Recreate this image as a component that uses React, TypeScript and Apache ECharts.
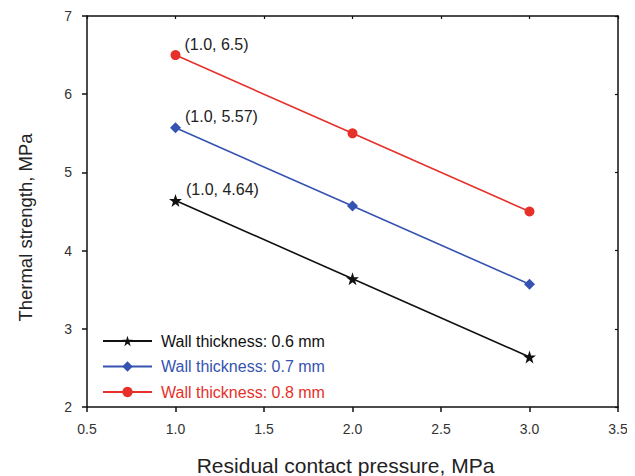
import React, { useEffect, useRef } from "react";
import * as echarts from "echarts";

const pressures = [1.0, 2.0, 3.0];
const wall06 = [4.64, 3.64, 2.64];
const wall07 = [5.57, 4.57, 3.57];
const wall08 = [6.5, 5.5, 4.5];
const seriesNames = ["Wall thickness: 0.6 mm", "Wall thickness: 0.7 mm", "Wall thickness: 0.8 mm"];
const seriesColors = ["#111111", "#3553b0", "#e6302a"];
const seriesSymbols = [
  "path://M50,0 L61.8,35.1 L98.1,35.1 L68.8,56.8 L79.4,91.9 L50,70.6 L20.6,91.9 L31.2,56.8 L1.9,35.1 L38.2,35.1 Z",
  "diamond",
  "circle",
];
const symbolSizes = [13, 11, 10];

const FONT = "'Liberation Sans', Arial, sans-serif";

export default function App() {
  const ref = useRef<HTMLDivElement>(null);
  useEffect(() => {
    if (!ref.current) return;
    const chart = echarts.init(ref.current, null, { renderer: "svg" });
    const allData = [wall06, wall07, wall08];
    const series = allData.map((vals, i) => ({
      name: seriesNames[i],
      type: "line",
      data: pressures.map((p, j) => [p, vals[j]]),
      color: seriesColors[i],
      symbol: seriesSymbols[i],
      symbolSize: symbolSizes[i],
      lineStyle: { color: seriesColors[i], width: 1.6 },
      itemStyle: { color: seriesColors[i] },
      label: {
        show: true,
        position: "right",
        distance: 4,
        offset: [0, -11],
        fontFamily: FONT,
        fontSize: 16,
        color: "#222",
        formatter: (p: any) =>
          p.dataIndex === 0 ? `(${p.value[0].toFixed(1)}, ${p.value[1]})` : "",
      },
      emphasis: { disabled: true },
    }));
    chart.setOption({
      animation: false,
      textStyle: { fontFamily: FONT },
      grid: { left: 79, top: 8, width: 531, height: 391, containLabel: false, outerBoundsMode: "none" },
      legend: {
        orient: "vertical",
        left: 89,
        top: 320,
        itemWidth: 49,
        itemHeight: 13,
        itemGap: 9.5,
        data: seriesNames.map((n, i) => ({
          name: n,
          textStyle: { color: seriesColors[i], fontSize: 16, fontFamily: FONT, padding: [0, 0, 0, 4] },
        })),
      },
      xAxis: [
        {
          type: "value",
          min: 0.5,
          max: 3.5,
          interval: 0.5,
          name: "Residual contact pressure, MPa",
          nameLocation: "middle",
          nameGap: 48,
          nameTextStyle: { fontSize: 21, color: "#222", fontFamily: FONT, padding: [0, 14, 0, 0] },
          axisLine: { show: true, lineStyle: { color: "#111", width: 1.5 } },
          axisTick: { show: true, inside: false, length: 5, lineStyle: { color: "#111", width: 1.5 } },
          axisLabel: {
            fontSize: 14,
            color: "#333",
            margin: 15,
            formatter: (v: number) => v.toFixed(1),
          },
          splitLine: { show: false },
        },
        {
          type: "value",
          position: "top",
          min: 0.5,
          max: 3.5,
          interval: 0.5,
          axisLine: { show: true, lineStyle: { color: "#111", width: 1.5 } },
          axisTick: { show: true, inside: true, length: 3, lineStyle: { color: "#111", width: 1.2 } },
          axisLabel: { show: false },
          splitLine: { show: false },
        },
      ],
      yAxis: [
        {
          type: "value",
          min: 2,
          max: 7,
          interval: 1,
          name: "Thermal strength, MPa",
          nameLocation: "middle",
          nameGap: 52,
          nameTextStyle: { fontSize: 18.5, color: "#222", fontFamily: FONT, padding: [0, 32, 0, 0] },
          axisLine: { show: true, lineStyle: { color: "#111", width: 1.5 } },
          axisTick: { show: true, inside: false, length: 5, lineStyle: { color: "#111", width: 1.5 } },
          axisLabel: { fontSize: 14, color: "#333", margin: 15 },
          splitLine: { show: false },
        },
        {
          type: "value",
          position: "right",
          min: 2,
          max: 7,
          interval: 1,
          axisLine: { show: true, lineStyle: { color: "#111", width: 1.5 } },
          axisTick: { show: true, inside: true, length: 3, lineStyle: { color: "#111", width: 1.2 } },
          axisLabel: { show: false },
          splitLine: { show: false },
        },
      ],
      series,
    });
    return () => chart.dispose();
  }, []);
  return <div ref={ref} style={{ width: 627, height: 468 }} />;
}
